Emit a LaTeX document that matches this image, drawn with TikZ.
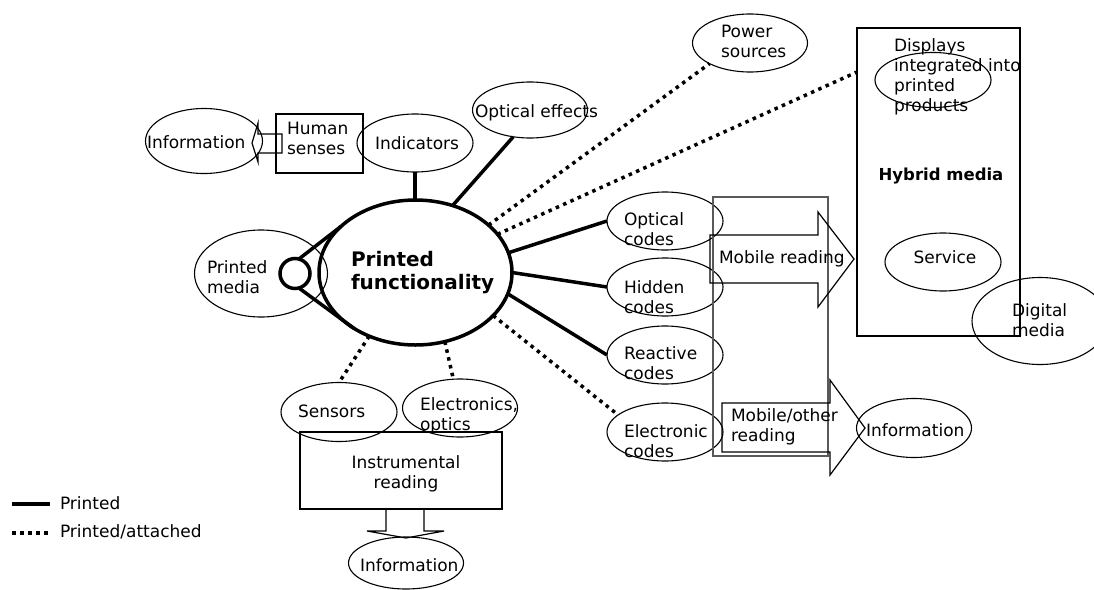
\documentclass[tikz,border=0pt]{standalone}
\usepackage{fontspec}
\setmainfont{DejaVu Sans}
\usetikzlibrary{shapes.geometric,calc}
\begin{document}
\begin{tikzpicture}[x=1pt,y=-1pt,
  every node/.style={inner sep=0pt,outer sep=0pt,font=\fontsize{17}{20}\selectfont},
  ell/.style={draw,ellipse,line width=1.1pt,minimum width=116pt,minimum height=58pt},
  txt/.style={anchor=west,align=left},
  thk/.style={line width=3.5pt},
  dott/.style={line width=3.5pt,dash pattern=on 3.5pt off 4.5pt},
  boxline/.style={line width=1.3pt},
  blockarrow/.style={line width=1.2pt,line join=miter}]
\useasboundingbox (0,0) rectangle (1094,589);

% central
\node[draw,ellipse,line width=3.5pt,minimum width=193pt,minimum height=145pt] (cent) at (415.5,272.5) {};
\node[txt,font=\fontsize{20}{23}\selectfont\bfseries] (centt) at (351,273) {Printed\\functionality};
\node[draw,circle,line width=3.5pt,minimum size=30pt] (loop) at (295,273.5) {};
\node[ell,minimum width=133pt,minimum height=87pt] (pmed) at (261,273.5) {};
\node[txt] (pmedt) at (207,277) {Printed\\media};
\draw[thk] (loop.75) -- (cent.148);
\draw[thk] (loop.-75) -- (cent.-138);

% top left
\node[ell,minimum width=117pt,minimum height=65pt] (info1) at (204,141) {};
\node[txt] (info1t) at (147,142) {Information};
\node[draw,boxline,minimum width=87pt,minimum height=59pt] (hum) at (319.5,143.5) {};
\node[txt] (humt) at (287,138) {Human\\senses};
\draw[blockarrow] (282,134) -- (258,134) -- (258,123) -- (252,143) -- (258,162) -- (258,153) -- (282,153) -- cycle;
\node[ell] (ind) at (415,143) {};
\node[txt] (indt) at (375,143) {Indicators};
\draw[thk] (ind.south) -- (ind.south |- cent.north);

\node[ell,minimum width=115pt,minimum height=56pt] (opte) at (530,110) {};
\node[txt] (optet) at (475,113) {Optical effects};
\draw[thk] (opte.-122) -- (cent.61);

\node[ell,minimum width=115pt] (pow) at (750,43) {};
\node[txt] (powt) at (721,41) {Power\\sources};
\draw[dott] (cent.33) -- (pow.207);

% hybrid media
\node[draw,boxline,minimum width=163pt,minimum height=308pt] (hyb) at (938.5,182) {};
\coordinate (hybin) at (857,72);
\draw[dott] (cent.25) -- (hybin);
\node[ell,minimum height=55pt] (disp) at (933,80) {};
\node[txt] (dispt) at (894,77) {Displays\\integrated into\\printed\\products};
\node[font=\fontsize{16.5}{20}\selectfont\bfseries] (hybt) at (941,176) {Hybrid media};
\node[ell] (serv) at (943,262) {};
\node (servt) at (945,257) {Service};
\node[ell,minimum width=136pt,minimum height=87pt] (dig) at (1040,321) {};
\node[txt] (digt) at (1012,320) {Digital\\media};

% codes
\node[ell] (optc) at (665,221) {};
\node[txt] (optct) at (624,229) {Optical\\codes};
\node[ell] (hidc) at (665,287) {};
\node[txt] (hidct) at (624,297) {Hidden\\codes};
\node[ell] (reac) at (665,355) {};
\node[txt] (react) at (624,363) {Reactive\\codes};
\node[ell] (elc) at (665,432) {};
\node[txt] (elct) at (624,441) {Electronic\\codes};
\draw[thk] (cent.12) -- (optc.west);
\draw[thk] (cent.east) -- (hidc.west);
\draw[thk] (cent.-13) -- (reac.west);
\draw[dott] (cent.-29) -- (elc.160);

\draw[line width=1.3pt,draw=black!65] (713,197) rectangle (828,456);
\draw[blockarrow] (710,235) -- (818,235) -- (818,212) -- (854,259) -- (818,307) -- (818,283) -- (710,283) -- cycle;
\node[txt] (mobt) at (719,259) {Mobile reading};
\draw[blockarrow] (722,403) -- (830,403) -- (830,380) -- (865,428) -- (830,475) -- (830,452) -- (722,452) -- cycle;
\node[txt] (mobot) at (731,427) {Mobile/other\\reading};
\node[ell,minimum width=115pt,minimum height=59pt] (info2) at (914,428) {};
\node[txt] (info2t) at (866,430) {Information};

% bottom
\node[ell,minimum height=59pt] (sen) at (339,412) {};
\node[txt] (sent) at (298,411) {Sensors};
\node[ell,minimum width=115pt] (elo) at (460,408) {};
\node[txt] (elot) at (420,416) {Electronics,\\optics};
\draw[dott] (cent.234) -- (sen.north);
\draw[dott] (cent.-67) -- (elo.103);
\node[draw,boxline,minimum width=202pt,minimum height=77pt] (instr) at (401,470.5) {};
\node[align=center] (instrt) at (406,474) {Instrumental\\reading};
\draw[blockarrow] (386,509) -- (386,531) -- (367,531) -- (406,538) -- (444,531) -- (424,531) -- (424,509);
\node[ell,minimum width=115pt,minimum height=52pt] (info3) at (406,563) {};
\node[txt] (info3t) at (360,565) {Information};

% legend
\coordinate (l1a) at (12,504); \coordinate (l1b) at (50,504);
\coordinate (l2a) at (12,533); \coordinate (l2b) at (50,533);
\draw[thk] (l1a) -- (l1b);
\draw[dott] (l2a) -- (l2b);
\node[txt] (leg1) at (60,503) {Printed};
\node[txt] (leg2) at (60,532) {Printed/attached};
\end{tikzpicture}
\end{document}
